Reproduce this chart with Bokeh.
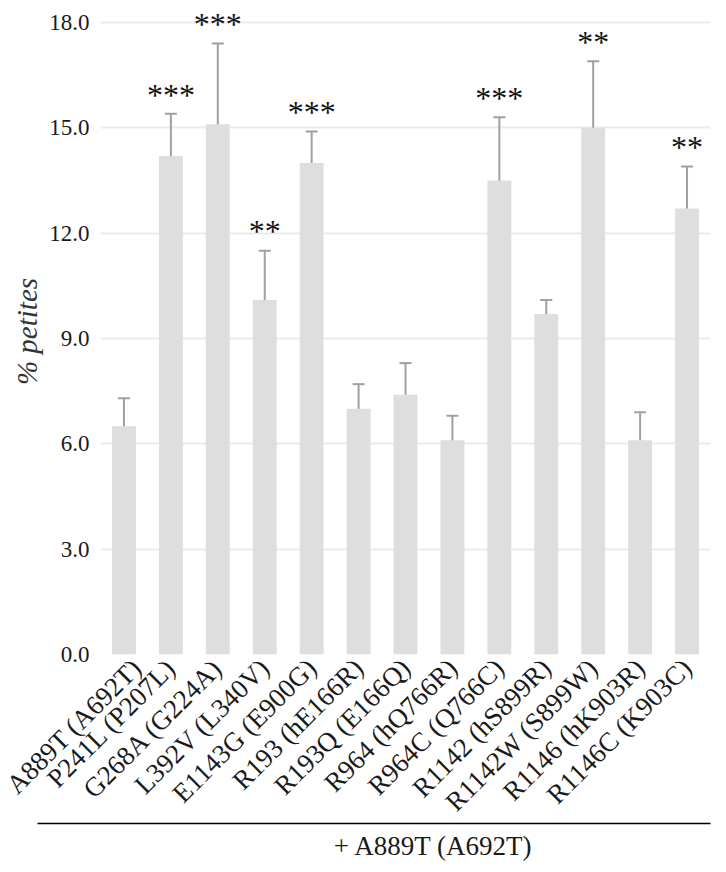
import math
from bokeh.plotting import figure
from bokeh.models import (ColumnDataSource, Range1d, FixedTicker, PrintfTickFormatter,
                          Whisker, TeeHead)
from bokeh.layouts import column
from bokeh.core.properties import value
from bokeh.embed import file_html
from bokeh.resources import INLINE

categories = ["A889T (A692T)", "P241L (P207L)", "G268A (G224A)", "L392V (L340V)",
              "E1143G (E900G)", "R193 (hE166R)", "R193Q (E166Q)", "R964 (hQ766R)",
              "R964C (Q766C)", "R1142 (hS899R)", "R1142W (S899W)", "R1146 (hK903R)",
              "R1146C (K903C)"]
means = [6.5, 14.2, 15.1, 10.1, 14.0, 7.0, 7.4, 6.1, 13.5, 9.7, 15.0, 6.1, 12.7]
errors = [0.8, 1.2, 2.3, 1.4, 0.9, 0.7, 0.9, 0.7, 1.8, 0.4, 1.9, 0.8, 1.2]
stars = ["", "***", "***", "**", "***", "", "", "", "***", "", "**", "", "**"]
y_ticks = [0, 3, 6, 9, 12, 15, 18]
y_label = "% petites"
group_label = "+ A889T (A692T)"

SERIF = "Liberation Serif"

lower = [m - e for m, e in zip(means, errors)]
upper = [m + e for m, e in zip(means, errors)]
star_y = [u + 0.55 for u in upper]

src = ColumnDataSource(dict(cat=categories, mean=means, lower=lower, upper=upper,
                            star=stars, star_y=star_y))

p = figure(x_range=categories, y_range=Range1d(0, 18.4), width=718, height=834,
           output_backend="svg", toolbar_location=None,
           min_border_left=100, min_border_right=8, min_border_top=8, min_border_bottom=180)
p.frame_align = False
p.outline_line_color = None
p.background_fill_color = "white"

p.vbar(x="cat", top="mean", width=0.51, source=src, fill_color="#dedede", line_color=None)

wh = Whisker(base="cat", lower="lower", upper="upper", source=src,
             line_color="#a0a0a0", line_width=2,
             upper_head=TeeHead(size=12, line_color="#a0a0a0", line_width=2),
             lower_head=TeeHead(size=12, line_color="#a0a0a0", line_width=2))
p.add_layout(wh)

p.text(x="cat", y="star_y", text="star", source=src, text_align="center",
       text_baseline="alphabetic", text_font=value(SERIF), text_font_size="32px",
       text_color="#111111")

p.xgrid.grid_line_color = None
p.ygrid.grid_line_color = "#ebebeb"
p.ygrid.grid_line_width = 2
p.yaxis.ticker = FixedTicker(ticks=y_ticks)
p.yaxis.formatter = PrintfTickFormatter(format="%.1f")
for ax in (p.xaxis[0], p.yaxis[0]):
    ax.axis_line_color = None
    ax.major_tick_line_color = None
    ax.minor_tick_line_color = None
    ax.major_label_text_font = SERIF
    ax.major_label_text_color = "#1a1a1a"
p.yaxis.major_label_text_font_size = "23px"
p.xaxis.major_label_text_font_size = "27px"
p.yaxis.major_label_standoff = 5
p.yaxis.axis_label = y_label
p.yaxis.axis_label_text_font = SERIF
p.yaxis.axis_label_text_font_style = "italic"
p.yaxis.axis_label_text_font_size = "29px"
p.yaxis.axis_label_text_color = "#333333"
p.yaxis.axis_label_standoff = 3
p.xaxis.major_label_orientation = math.pi / 4
p.xaxis.major_label_standoff = 3

# group bracket below the category labels
p2 = figure(x_range=Range1d(0, 718), y_range=Range1d(62, 0), width=718, height=62,
            output_backend="svg", toolbar_location=None, min_border=0)
p2.frame_align = False
p2.margin = (-24, 0, 0, 0)
p2.background_fill_color = None
p2.border_fill_color = None
p2.axis.visible = False
p2.grid.visible = False
p2.outline_line_color = None
p2.segment(x0=[37], y0=[13], x1=[710], y1=[13], line_color="black", line_width=1.6)
p2.text(x=[433], y=[35], text=[group_label], text_align="center", text_baseline="middle",
        text_font=value(SERIF), text_font_size="27px", text_color="#1a1a1a")

layout = column(p, p2, spacing=0)
open("out.html", "w").write(file_html(layout, INLINE))
